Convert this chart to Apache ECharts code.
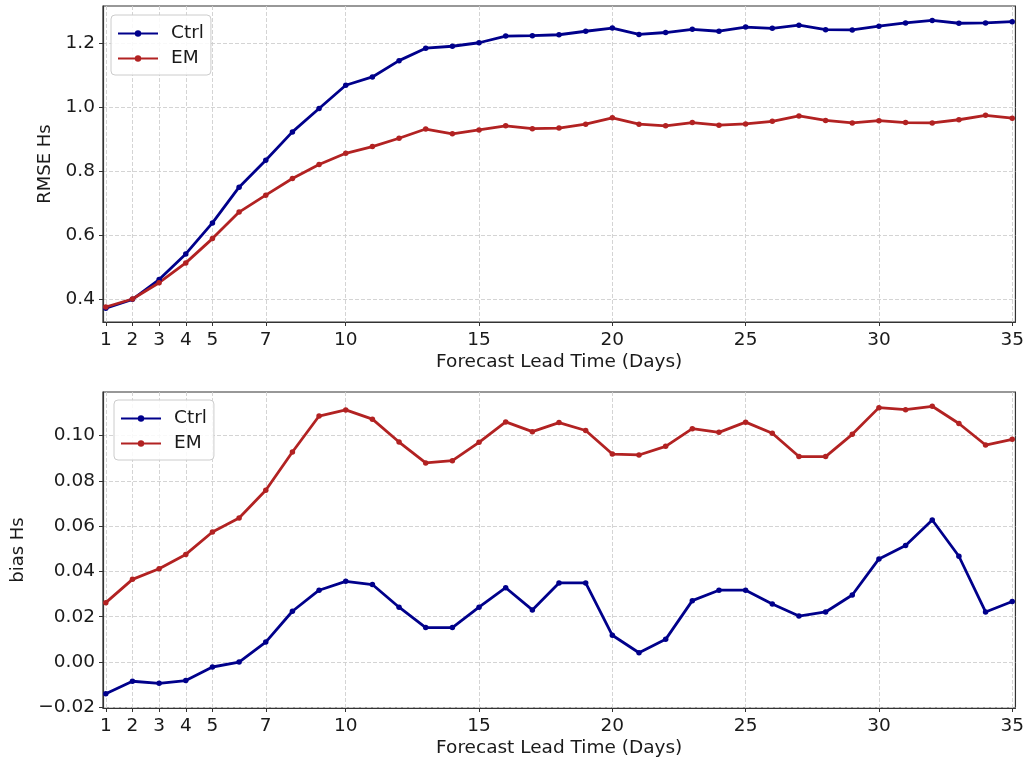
<!DOCTYPE html>
<html>
<head>
<meta charset="utf-8">
<title>RMSE and bias of Hs by forecast lead time</title>
<script src="https://cdn.jsdelivr.net/npm/echarts@6/dist/echarts.min.js"></script>
<style>
  html, body { margin: 0; padding: 0; background: #ffffff; }
  #chart { width: 1027px; height: 760px; }
</style>
</head>
<body>
<div id="chart"></div>
<script>
// Forecast lead time in days
const leadDays = [1,2,3,4,5,6,7,8,9,10,11,12,13,14,15,16,17,18,19,20,21,22,23,24,25,26,27,28,29,30,31,32,33,34,35];

// RMSE of significant wave height
const rmseCtrl = [0.371,0.399,0.461,0.541,0.638,0.750,0.834,0.923,0.996,1.069,1.095,1.146,1.185,1.191,1.202,1.223,1.224,1.227,1.238,1.248,1.228,1.234,1.244,1.238,1.251,1.247,1.257,1.243,1.242,1.254,1.264,1.272,1.263,1.264,1.268];
const rmseEM   = [0.375,0.400,0.451,0.513,0.589,0.672,0.725,0.777,0.821,0.856,0.877,0.903,0.932,0.917,0.929,0.942,0.933,0.935,0.947,0.967,0.947,0.942,0.952,0.944,0.948,0.956,0.973,0.959,0.951,0.958,0.952,0.951,0.961,0.975,0.966];

// Bias of significant wave height
const biasCtrl = [-0.0140,-0.0085,-0.0094,-0.0082,-0.0022,0.0000,0.0088,0.0224,0.0317,0.0356,0.0342,0.0242,0.0152,0.0152,0.0242,0.0328,0.0230,0.0349,0.0349,0.0118,0.0041,0.0100,0.0271,0.0317,0.0317,0.0256,0.0203,0.0221,0.0296,0.0455,0.0514,0.0627,0.0467,0.0221,0.0267];
const biasEM   = [0.0262,0.0365,0.0412,0.0475,0.0574,0.0636,0.0758,0.0927,0.1086,0.1113,0.1072,0.0971,0.0879,0.0889,0.0970,0.1060,0.1017,0.1057,0.1022,0.0918,0.0914,0.0952,0.1030,0.1014,0.1059,0.1010,0.0907,0.0907,0.1005,0.1123,0.1114,0.1129,0.1053,0.0958,0.0983];

// Tick positions
const xTicks = [1,2,3,4,5,7,10,15,20,25,30,35];
const rmseTicks = [0.4,0.6,0.8,1.0,1.2];
const biasTicks = [-0.02,0.00,0.02,0.04,0.06,0.08,0.10];

const seriesNames = ['Ctrl', 'EM'];
const seriesColors = ['#00008b', '#b22222'];

const FONT = 'DejaVu Sans';
const TEXT = '#1a1a1a';

function pairs(xs, ys) { return xs.map((x, i) => [x, ys[i]]); }

const gridLine = { show: true, lineStyle: { color: '#cfcfcf', width: 0.9, type: [4, 2] } };

function xAxisFor(gridIndex) {
  return {
    type: 'value', gridIndex: gridIndex,
    min: 0.895, max: 35.12,
    name: 'Forecast Lead Time (Days)',
    nameLocation: 'middle', nameGap: 31,
    nameTextStyle: { fontFamily: FONT, fontSize: 18.5, color: TEXT },
    axisLine: { show: true, onZero: false, lineStyle: { color: '#333', width: 1.2 } },
    axisTick: { show: true, inside: false, length: 4, customValues: xTicks, lineStyle: { color: '#333' } },
    axisLabel: { show: true, customValues: xTicks, margin: 9, fontFamily: FONT, fontSize: 18.5, color: TEXT },
    splitLine: gridLine
  };
}

function yAxisFor(gridIndex, opts) {
  return {
    type: 'value', gridIndex: gridIndex,
    min: opts.min, max: opts.max,
    name: opts.name,
    nameLocation: 'middle', nameGap: opts.nameGap, nameRotate: 90,
    nameTextStyle: { fontFamily: FONT, fontSize: 18, color: TEXT },
    axisLine: { show: true, onZero: false, lineStyle: { color: '#333', width: 1.2 } },
    axisTick: { show: true, inside: false, length: 4, customValues: opts.ticks, lineStyle: { color: '#333' } },
    axisLabel: {
      show: true, customValues: opts.ticks, margin: 8,
      fontFamily: FONT, fontSize: 18.5, color: TEXT,
      formatter: v => v.toFixed(opts.digits).replace('-', '\u2212')
    },
    splitLine: gridLine
  };
}

function lineSeries(name, color, xIdx, yIdx, values) {
  return {
    type: 'line', name: name,
    xAxisIndex: xIdx, yAxisIndex: yIdx,
    data: pairs(leadDays, values),
    symbol: 'circle', symbolSize: 5.5,
    showSymbol: true,
    lineStyle: { color: color, width: 2.8 },
    itemStyle: { color: color, borderWidth: 0 },
    emphasis: { disabled: true },
    z: 3
  };
}

function legendFor(left, top) {
  return {
    show: true,
    data: seriesNames.map(n => ({ name: n })),
    orient: 'vertical',
    left: left, top: top,
    itemWidth: 40, itemHeight: 8, itemGap: 6,
    padding: [9, 7, 7, 6],
    backgroundColor: 'rgba(255,255,255,0.85)',
    borderColor: '#cccccc', borderWidth: 1, borderRadius: 4,
    textStyle: { fontFamily: FONT, fontSize: 18.5, color: TEXT, padding: [0, 0, 0, 8] },
    selectedMode: false
  };
}

const chart = echarts.init(document.getElementById('chart'), null, { renderer: 'canvas' });

chart.setOption({
  animation: false,
  backgroundColor: '#ffffff',
  textStyle: { fontFamily: FONT },
  grid: [
    { left: 103, top: 6, width: 914, height: 316, show: true, borderColor: '#333', borderWidth: 1.2, backgroundColor: 'transparent' },
    { left: 103, top: 392, width: 914, height: 316, show: true, borderColor: '#333', borderWidth: 1.2, backgroundColor: 'transparent' }
  ],
  // one legend box inside each panel
  legend: [legendFor(111, 15), legendFor(114, 400)],
  xAxis: [xAxisFor(0), xAxisFor(1)],
  yAxis: [
    yAxisFor(0, { min: 0.328, max: 1.317, ticks: rmseTicks, digits: 1, name: 'RMSE Hs', nameGap: 44 }),
    yAxisFor(1, { min: -0.0203, max: 0.1192, ticks: biasTicks, digits: 2, name: 'bias Hs', nameGap: 70 })
  ],
  series: [
    lineSeries('Ctrl', seriesColors[0], 0, 0, rmseCtrl),
    lineSeries('EM', seriesColors[1], 0, 0, rmseEM),
    lineSeries('Ctrl', seriesColors[0], 1, 1, biasCtrl),
    lineSeries('EM', seriesColors[1], 1, 1, biasEM)
  ]
});
</script>
</body>
</html>
